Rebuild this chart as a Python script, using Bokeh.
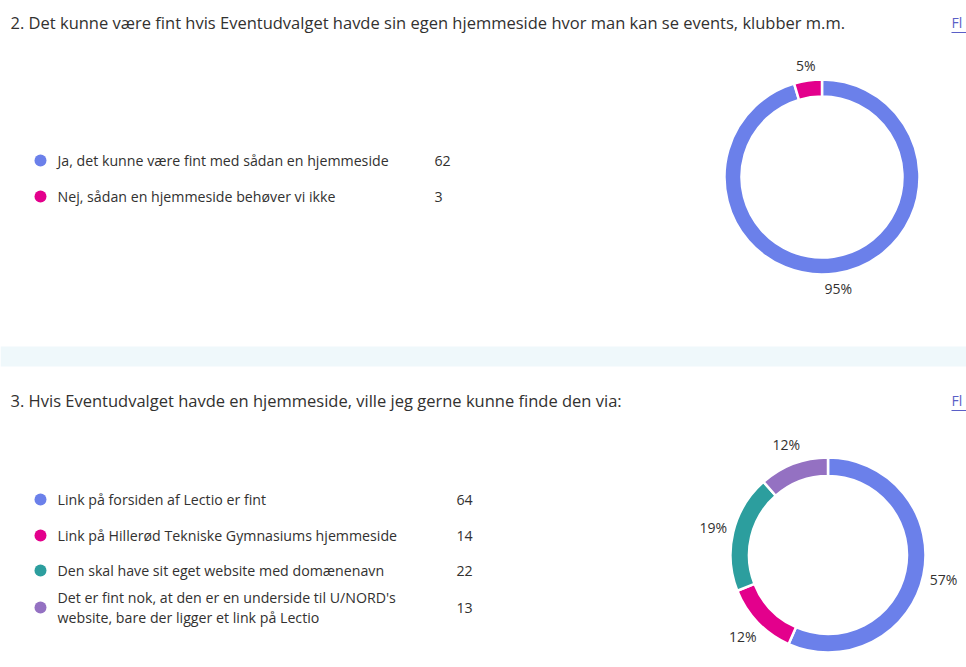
import math
from bokeh.plotting import figure
from bokeh.models import Range1d, ColumnDataSource
from bokeh.core.properties import value
from bokeh.embed import file_html
from bokeh.resources import INLINE

# ---------------- data ----------------
q1_title = "2. Det kunne være fint hvis Eventudvalget havde sin egen hjemmeside hvor man kan se events, klubber m.m."
q1_options = ["Ja, det kunne være fint med sådan en hjemmeside",
              "Nej, sådan en hjemmeside behøver vi ikke"]
q1_counts = [62, 3]

q2_title = "3. Hvis Eventudvalget havde en hjemmeside, ville jeg gerne kunne finde den via:"
q2_options = ["Link på forsiden af Lectio er fint",
              "Link på Hillerød Tekniske Gymnasiums hjemmeside",
              "Den skal have sit eget website med domænenavn",
              "Det er fint nok, at den er en underside til U/NORD's\nwebsite, bare der ligger et link på Lectio"]
q2_counts = [64, 14, 22, 13]

palette = ["#6b80ea", "#e3008c", "#2c9e9e", "#9471c2"]
link_text = "Fl"   # the visible part of the cut-off "Flere detaljer" link

# ---------------- layout ----------------
W, H = 966, 667
FONT = value("Open Sans")
TXT = "#323130"


def Y(py):
    return H - py


p = figure(width=W, height=H, x_range=Range1d(0, W), y_range=Range1d(0, H),
           output_backend="svg", toolbar_location=None, x_axis_type=None,
           y_axis_type=None, min_border=0, outline_line_color=None,
           background_fill_color="white", border_fill_color="white")
p.grid.visible = False

# separator band between the two cards
p.quad(left=[0], right=[W], bottom=[Y(366)], top=[Y(346)],
       fill_color="#eff8fb", line_color=None)


def card(title, options, counts, title_y, rows_y, count_x, cx, cy, r_out, r_in, r_lab):
    # title
    p.text(x=[10], y=[Y(title_y)], text=[title], text_font=FONT,
           text_font_size="16.5px", text_color=TXT, text_baseline="middle",
           text_align="left")
    # link (cut off by the right edge in the original)
    p.text(x=[951], y=[Y(title_y)], text=[link_text], text_font=FONT,
           text_font_size="14px", text_color="#5b5fc7", text_baseline="middle",
           text_align="left")
    p.segment(x0=[951], x1=[W], y0=[Y(title_y + 10)], y1=[Y(title_y + 10)],
              line_color="#5b5fc7", line_width=1)
    # legend
    cols = palette[:len(counts)]
    p.scatter(x=[40] * len(counts), y=[Y(v) for v in rows_y], size=12,
              marker="circle", fill_color=cols, line_color=None)
    p.text(x=[57] * len(counts), y=[Y(v) for v in rows_y], text=options,
           text_font=FONT, text_font_size="14.2px", text_color=TXT,
           text_baseline="middle", text_align="left", text_line_height=1.1)
    p.text(x=[count_x] * len(counts), y=[Y(v) for v in rows_y],
           text=[str(c) for c in counts], text_font=FONT,
           text_font_size="14.2px", text_color=TXT, text_baseline="middle",
           text_align="left")
    # donut
    total = sum(counts)
    starts, ends, mids, labels = [], [], [], []
    cum = 0
    for c in counts:
        f0 = cum / total
        cum += c
        f1 = cum / total
        starts.append(math.pi / 2 - f0 * 2 * math.pi)
        ends.append(math.pi / 2 - f1 * 2 * math.pi)
        mids.append(math.pi / 2 - (f0 + f1) / 2 * 2 * math.pi)
        labels.append(f"{round(100 * c / total)}%")
    src = ColumnDataSource(dict(start=starts, end=ends, color=cols))
    p.annular_wedge(x=cx, y=Y(cy), inner_radius=r_in, outer_radius=r_out,
                    start_angle="start", end_angle="end", direction="clock",
                    fill_color="color", line_color="white", line_width=2.5,
                    source=src)
    lx = [cx + r_lab * math.cos(a) for a in mids]
    ly = [Y(cy) + r_lab * math.sin(a) for a in mids]
    p.text(x=lx, y=ly, text=labels, text_font=FONT, text_font_size="14px",
           text_color=TXT, text_align="center", text_baseline="middle")


card(q1_title, q1_options, q1_counts, 22, [160, 196], 434,
     821.5, 176.5, 97.5, 80.5, 113)
card(q2_title, q2_options, q2_counts, 400, [499, 535, 570, 607], 456,
     827.5, 554.5, 97.5, 79, 118)

open("out.html", "w").write(file_html(p, INLINE))
